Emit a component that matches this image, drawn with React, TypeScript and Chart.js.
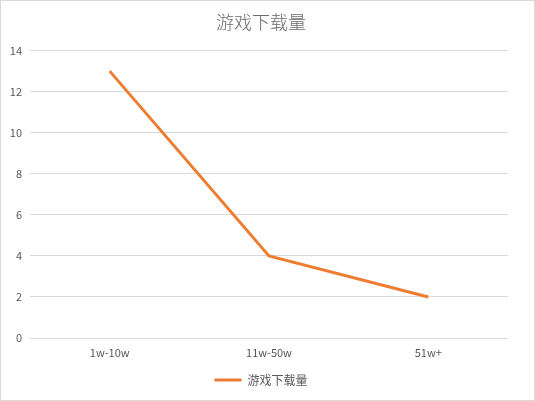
import React, { useEffect, useRef } from "react";
import { Chart, registerables } from "chart.js";

Chart.register(...registerables);

const categories = ["1w-10w", "11w-50w", "51w+"];
const downloads = [13, 4, 2];
const seriesName = "游戏下载量";
const titleText = "游戏下载量";
const yMin = 0;
const yMax = 14;
const yStep = 2;

const FONT = "'Noto Sans CJK SC', 'Noto Sans', sans-serif";
const TEXT = "#595959";
const GRID = "#d9d9d9";
const LINE = "#ED7D31";

export default function App() {
  const ref = useRef<HTMLCanvasElement | null>(null);

  useEffect(() => {
    if (!ref.current) return;
    const chart = new Chart(ref.current, {
      type: "line",
      data: {
        labels: categories,
        datasets: [
          {
            label: seriesName,
            data: downloads,
            borderColor: LINE,
            backgroundColor: LINE,
            borderWidth: 3,
            pointRadius: 0,
            pointHoverRadius: 0,
            tension: 0,
            fill: false,
          },
        ],
      },
      options: {
        animation: false,
        responsive: false,
        maintainAspectRatio: false,
        layout: { padding: { left: 0, right: 13, top: 0, bottom: 4 } },
        plugins: {
          title: {
            display: true,
            text: titleText,
            color: "#6b6b6b",
            font: { family: FONT, size: 18, weight: "300" },
            padding: { top: 10, bottom: 18 },
          },
          legend: {
            position: "bottom",
            labels: {
              color: TEXT,
              font: { family: FONT, size: 12 },
              boxWidth: 27,
              boxHeight: 3,
              padding: 10,
              generateLabels: (c: any) =>
                Chart.defaults.plugins.legend.labels
                  .generateLabels(c)
                  .map((l: any) => ({ ...l, lineWidth: 0 })),
            },
          },
          tooltip: { enabled: false },
        },
        scales: {
          x: {
            offset: true,
            grid: { display: false, drawTicks: false },
            border: { display: false },
            ticks: {
              color: TEXT,
              font: { family: FONT, size: 11 },
              padding: 8,
            },
            afterFit: (s: any) => {
              s.height = 26;
            },
          },
          y: {
            min: yMin,
            max: yMax,
            grid: { color: GRID, drawTicks: false, lineWidth: 1 },
            border: { display: false },
            ticks: {
              stepSize: yStep,
              color: TEXT,
              font: { family: FONT, size: 11 },
              padding: 8,
            },
            afterFit: (s: any) => {
              s.width = 29;
            },
          },
          yRight: {
            position: "right",
            min: yMin,
            max: yMax,
            grid: { display: false, drawTicks: false },
            border: { display: false },
            ticks: { display: false },
            afterFit: (s: any) => {
              s.width = 13;
            },
          },
        },
      },
    });
    return () => chart.destroy();
  }, []);

  return (
    <div
      style={{
        position: "fixed",
        left: 0,
        top: 0,
        width: 535,
        height: 401,
        boxSizing: "border-box",
        border: "1px solid #d9d9d9",
        background: "#fff",
      }}
    >
      <canvas ref={ref} width={533} height={399} style={{ display: "block" }} />
    </div>
  );
}
